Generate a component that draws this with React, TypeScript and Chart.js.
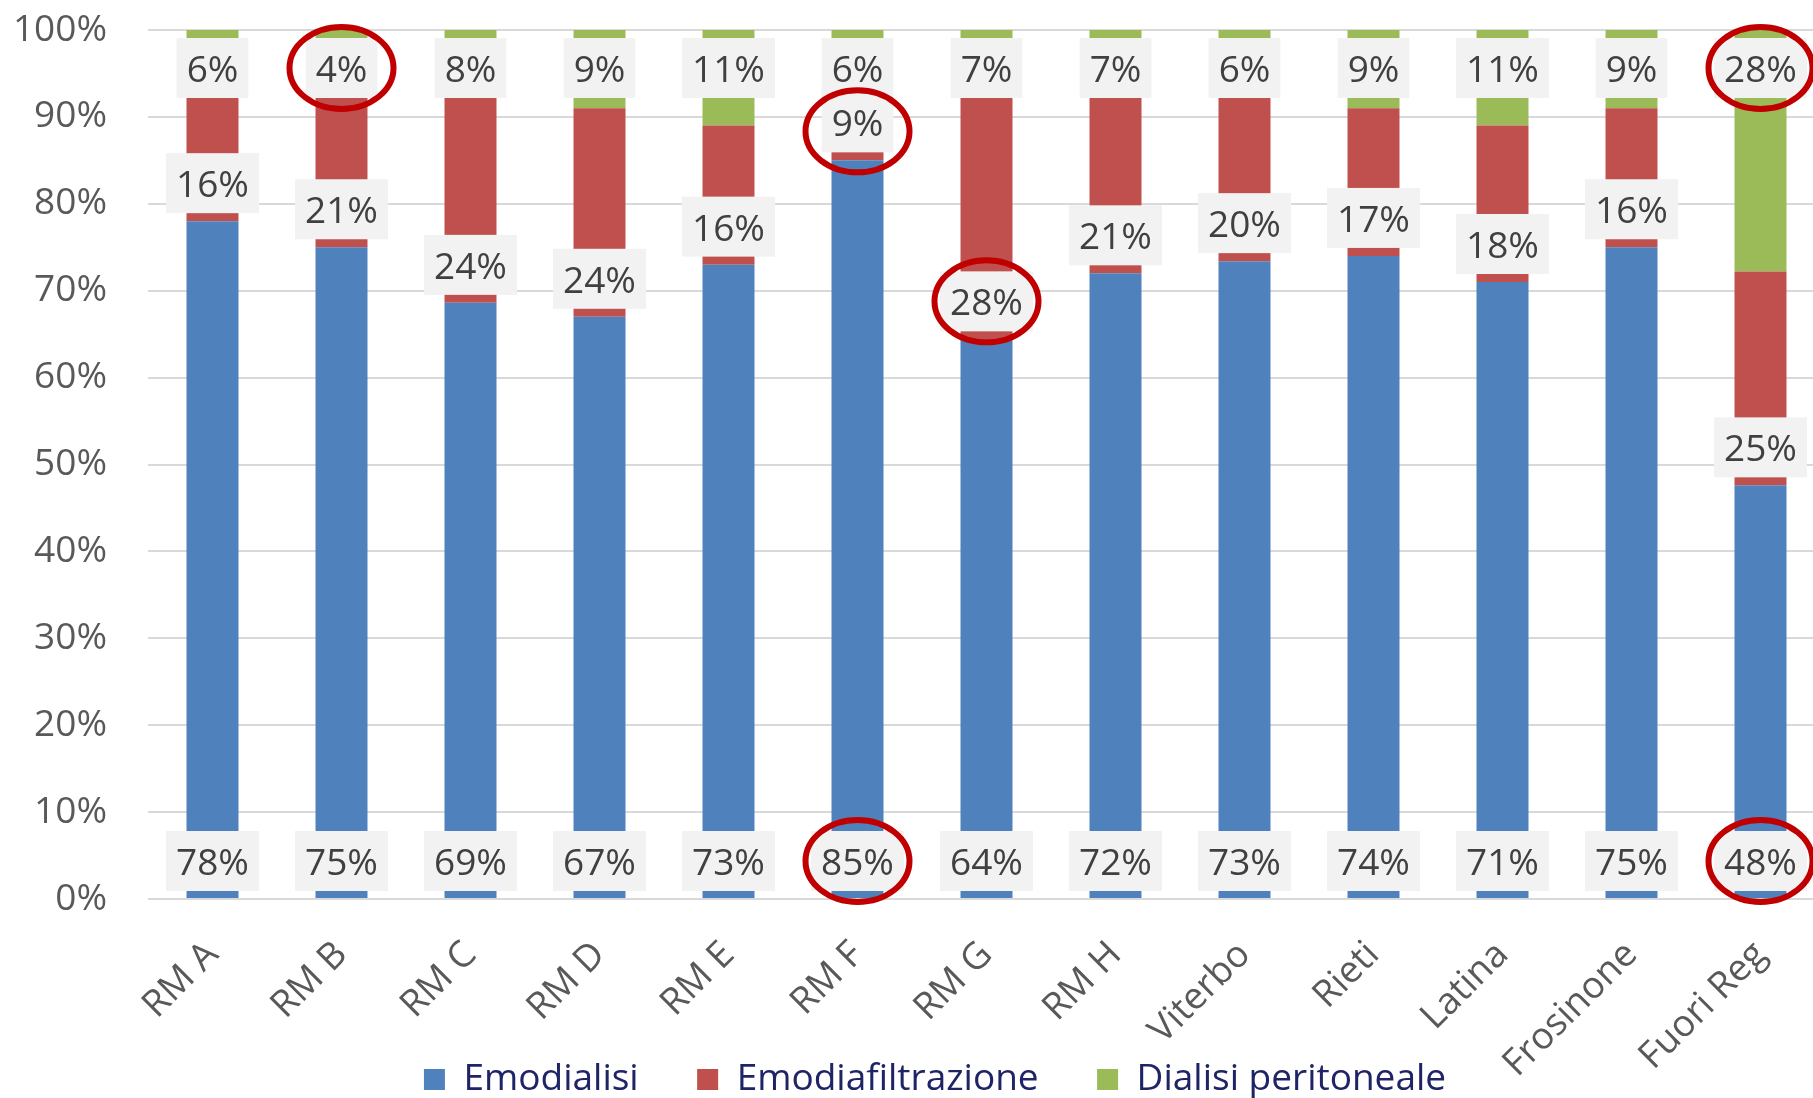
import React, { useEffect, useRef } from "react";
import { Chart, registerables } from "chart.js";

Chart.register(...registerables);

const categories = ["RM A", "RM B", "RM C", "RM D", "RM E", "RM F", "RM G", "RM H", "Viterbo", "Rieti", "Latina", "Frosinone", "Fuori Reg"];
const emodialisi = [78, 75, 68.6, 67, 73, 85, 64.4, 72, 73.4, 74, 71, 75, 47.6];
const emodiafiltrazione = [16, 21, 23.8, 24, 16, 9, 28.4, 21, 20.4, 17, 18, 16, 24.6];
const dialisiPeritoneale = [6, 4, 7.6, 9, 11, 6, 7.2, 7, 6.2, 9, 11, 9, 27.8];
const seriesNames = ["Emodialisi", "Emodiafiltrazione", "Dialisi peritoneale"];
const seriesColors = ["#4f81bd", "#c0504d", "#9bbb59"];
// highlighted labels: [category, series index]
const highlighted: [string, number][] = [
  ["RM B", 2],
  ["RM F", 1],
  ["RM F", 0],
  ["RM G", 1],
  ["Fuori Reg", 2],
  ["Fuori Reg", 0],
];

const FONT_FAMILY = "'Open Sans', 'Noto Sans', sans-serif";
const FONT_SIZE = 37;

// let rotated category labels run below the axis box (into the legend band)
const unclipPlugin = {
  id: "unclipXLabels",
  beforeDraw(chart: any) {
    const xs = chart.scales.x;
    if (xs) xs._computeLabelArea = () => undefined;
  },
};

const labelPlugin = {
  id: "boxLabels",
  afterDatasetsDraw(chart: any) {
    const ctx = chart.ctx as CanvasRenderingContext2D;
    const xs = chart.scales.x;
    const ys = chart.scales.y;
    ctx.save();
    ctx.font = `${FONT_SIZE}px ${FONT_FAMILY}`;
    ctx.textAlign = "center";
    ctx.textBaseline = "alphabetic";
    const centers: Record<string, number[]> = {};
    categories.forEach((cat, i) => {
      const cx = xs.getPixelForValue(i);
      const vals = [emodialisi[i], emodiafiltrazione[i], dialisiPeritoneale[i]];
      const base0 = ys.getPixelForValue(0);
      const base1 = ys.getPixelForValue(vals[0]);
      const top = ys.getPixelForValue(vals[0] + vals[1] + vals[2]);
      const cys = [base0 - 38, base1 - 38, top + 38];
      centers[cat] = cys;
      vals.forEach((v, k) => {
        const t = Math.round(v) + "%";
        const w = ctx.measureText(t).width + 20;
        ctx.fillStyle = "#f2f2f2";
        ctx.fillRect(cx - w / 2, cys[k] - 30, w, 60);
        ctx.fillStyle = "#404040";
        ctx.fillText(t, cx, cys[k] + 14);
      });
    });
    ctx.strokeStyle = "#c00000";
    ctx.lineWidth = 6;
    highlighted.forEach(([cat, k]) => {
      const i = categories.indexOf(cat);
      const cx = xs.getPixelForValue(i);
      const cy = centers[cat][k] + (cat === "RM F" && k === 1 ? 9 : 0);
      ctx.beginPath();
      ctx.ellipse(cx, cy, 52, 41, 0, 0, Math.PI * 2);
      ctx.stroke();
    });
    ctx.restore();
  },
};

export default function App() {
  const ref = useRef<HTMLCanvasElement | null>(null);
  useEffect(() => {
    if (!ref.current) return;
    const font = { family: FONT_FAMILY, size: FONT_SIZE };
    const dataSeries = [emodialisi, emodiafiltrazione, dialisiPeritoneale];
    const chart = new Chart(ref.current, {
      type: "bar",
      data: {
        labels: categories,
        datasets: dataSeries.map((d, k) => ({
          label: seriesNames[k],
          data: d,
          backgroundColor: seriesColors[k],
          borderWidth: 0,
          barPercentage: 0.403,
          categoryPercentage: 1,
        })),
      },
      options: {
        responsive: false,
        animation: false,
        layout: { padding: { left: 0, right: 0, top: 30, bottom: 0 } },
        scales: {
          x: {
            stacked: true,
            grid: { display: false },
            border: { display: false },
            ticks: {
              font,
              color: "#595959",
              minRotation: 45,
              maxRotation: 45,
              autoSkip: false,
              padding: 26,
            },
            afterFit: (s: any) => {
              s.height = 142;
            },
          },
          y: {
            stacked: true,
            min: 0,
            max: 100,
            grid: { color: "#d9d9d9", lineWidth: 2, drawTicks: true, tickLength: 41, tickColor: "rgba(0,0,0,0)" },
            border: { display: false },
            ticks: {
              stepSize: 10,
              font,
              color: "#595959",
              padding: 0,
              callback: (v: any) => v + "%",
            },
            afterFit: (s: any) => {
              s.width = 148;
            },
          },
          yR: {
            type: "linear",
            position: "right",
            display: true,
            grid: { display: false, drawTicks: false },
            border: { display: false },
            ticks: { display: false },
            afterFit: (s: any) => {
              s.width = 45;
            },
          },
        },
        plugins: {
          legend: {
            position: "bottom",
            labels: {
              boxWidth: 21,
              boxHeight: 21,
              padding: 20,
              font,
              color: "#1f2466",
              generateLabels: (ch: any) =>
                ch.data.datasets.map((ds: any, k: number) => ({
                  text: k < ch.data.datasets.length - 1 ? ds.label + "    " : ds.label,
                  fillStyle: ds.backgroundColor,
                  strokeStyle: ds.backgroundColor,
                  lineWidth: 0,
                  fontColor: "#1f2466",
                  hidden: false,
                  datasetIndex: k,
                })),
            },
          },
          tooltip: { enabled: false },
        },
      },
      plugins: [unclipPlugin, labelPlugin],
    } as any);
    return () => chart.destroy();
  }, []);
  return (
    <div
      style={{
        position: "fixed",
        left: 0,
        top: 0,
        width: 1813,
        height: 1098,
        overflow: "hidden",
        background: "#ffffff",
      }}
    >
      <canvas ref={ref} width={1870} height={1108} style={{ display: "block" }} />
    </div>
  );
}
